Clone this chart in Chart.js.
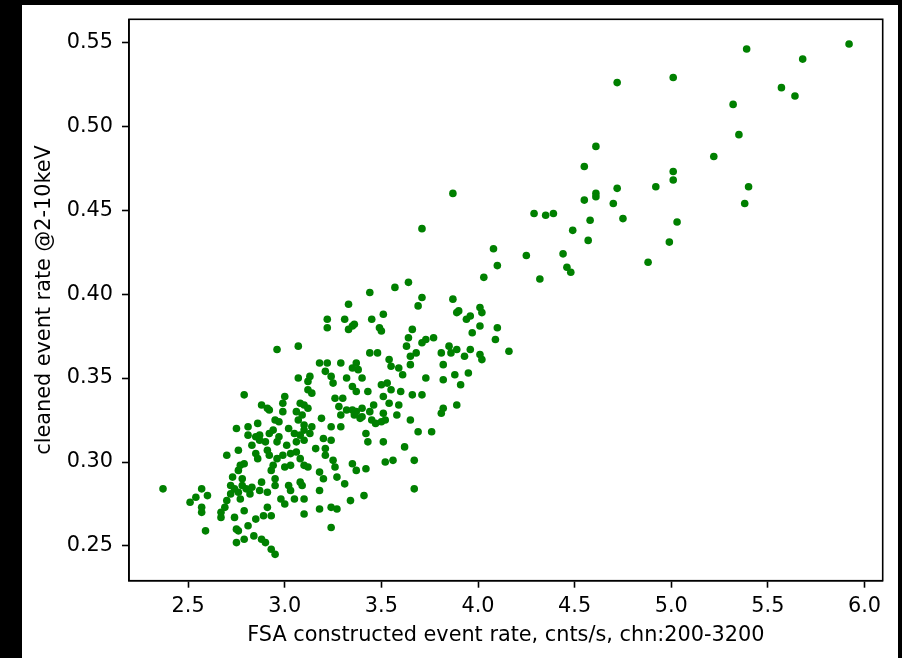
<!DOCTYPE html>
<html lang="en">
<head>
  <meta charset="UTF-8">
  <title>FSA vs cleaned event rate</title>
  <style>
    html, body { margin: 0; padding: 0; background: #000; }
    #wrap { position: absolute; left: 22px; top: 5px; width: 876px; height: 653px; background: #fff; }
  </style>
</head>
<body>
  <div id="wrap"><canvas id="scatter"></canvas></div>

  <script src="https://cdn.jsdelivr.net/npm/chart.js"></script>
  <script>
    // FSA constructed event rate (x) and cleaned event rate (y)
    const fsaRate = [
      5.39, 5.92, 5.68, 5.01, 4.72, 5.57, 5.64, 5.32, 5.35, 4.61, 5.22, 4.55, 5.01, 5.01, 4.92, 4.72, 5.40, 4.61, 4.61, 4.55,
      4.70, 5.38, 4.29, 4.35, 4.39, 4.58, 4.75, 5.03, 4.49, 4.57, 4.99, 4.25, 4.44, 4.46, 4.48, 4.88, 4.32, 3.87, 3.71, 4.08,
      4.10, 4.03, 3.57, 3.64, 3.71, 3.69, 3.87, 3.89, 3.90, 3.94, 3.96, 4.01, 4.02, 4.01, 4.10, 4.09, 3.97, 3.66, 3.64, 3.63,
      3.71, 3.73, 3.77, 3.85, 3.86, 3.89, 3.81, 3.96, 3.93, 4.01, 4.02, 4.16, 3.68, 3.65, 3.65, 3.54, 3.55, 3.59, 3.61, 3.82,
      3.73, 3.82, 3.88, 3.95, 3.91, 3.55, 3.60, 3.66, 3.71, 3.54, 3.59, 3.89, 3.82, 3.81, 3.58, 3.65, 3.69, 3.76, 3.62,
      3.50, 3.52, 3.51, 3.52, 3.56, 3.67, 3.67,
      3.44, 3.33, 3.22, 3.22, 3.31, 3.33, 3.35, 3.36, 3.45, 3.51, 3.49, 3.50,
      2.96, 3.07, 3.44, 3.48, 3.18, 3.22, 3.29, 3.37, 3.35, 3.38, 3.21, 3.24, 3.25, 3.13, 3.12, 3.12, 3.14, 3.07, 3.32, 3.40,
      3.35, 3.37, 3.50, 3.53, 3.43, 3.51, 3.26, 3.30, 3.00, 2.99, 3.08, 3.10, 3.12, 3.28, 3.29, 3.32, 3.35, 3.37, 3.40, 3.40,
      3.36, 3.39, 3.46, 3.44, 3.51, 2.92, 2.99, 3.06, 3.09, 3.07, 3.10, 2.95, 2.97, 3.19, 3.45, 3.47, 3.14, 3.10, 3.13, 3.24,
      3.29, 3.02, 3.05, 3.08, 2.94, 2.92, 3.42, 3.43, 3.20, 3.24,
      3.16, 3.21, 3.21, 3.25, 3.26, 3.35, 3.37, 3.42, 2.92, 2.96, 2.99, 3.03, 3.06, 3.08, 3.10, 3.12, 2.94, 2.93, 3.00, 3.03,
      3.18, 3.20, 3.27, 3.31, 2.95, 3.02, 3.03, 3.08, 3.09, 3.18, 3.41, 3.34, 2.98, 3.00, 3.05, 3.10, 3.18, 3.24, 3.27, 2.93,
      3.10, 3.24, 2.93, 2.95, 2.96, 3.01, 3.06, 3.10,
      2.37, 2.57, 2.60, 2.54, 2.51, 2.57, 2.57, 2.59, 2.70, 2.76, 2.67, 2.67, 2.69, 2.70, 2.72, 2.72, 2.73, 2.76, 2.77, 2.79,
      2.74, 2.76, 2.77, 2.78, 2.78, 2.80, 2.83, 2.82, 2.83, 2.85, 2.86, 2.87, 2.90, 2.91, 2.88, 2.87, 2.91, 2.95, 2.79, 2.74,
      2.91, 2.89, 2.85, 2.81, 2.75, 2.76, 2.84, 2.88, 2.90, 2.75, 2.79,
      2.79, 2.88, 2.91, 2.75, 2.81, 2.86, 2.81, 2.85, 2.87, 2.97
    ];
    const cleanedRate = [
      0.546, 0.549, 0.540, 0.529, 0.526, 0.523, 0.518, 0.513, 0.495, 0.488, 0.482, 0.476, 0.473, 0.468, 0.464, 0.463, 0.464, 0.460, 0.458, 0.456,
      0.454, 0.454, 0.448, 0.447, 0.448, 0.444, 0.445, 0.443, 0.438, 0.432, 0.431, 0.423, 0.424, 0.416, 0.413, 0.419, 0.409, 0.460, 0.439, 0.427,
      0.417, 0.410, 0.404, 0.407, 0.398, 0.393, 0.397, 0.389, 0.390, 0.385, 0.387, 0.392, 0.389, 0.381, 0.380, 0.373, 0.377, 0.379, 0.374, 0.369,
      0.371, 0.373, 0.374, 0.369, 0.365, 0.367, 0.365, 0.367, 0.363, 0.364, 0.361, 0.366, 0.365, 0.363, 0.358, 0.361, 0.357, 0.356, 0.352, 0.358,
      0.350, 0.349, 0.352, 0.353, 0.346, 0.343, 0.342, 0.340, 0.340, 0.335, 0.334, 0.334, 0.332, 0.329, 0.328, 0.325, 0.318, 0.318, 0.309,
      0.324, 0.325, 0.312, 0.300, 0.301, 0.301, 0.284,
      0.401, 0.394, 0.385, 0.380, 0.385, 0.379, 0.381, 0.382, 0.385, 0.388, 0.380, 0.378,
      0.367, 0.369, 0.365, 0.365, 0.359, 0.359, 0.359, 0.359, 0.356, 0.355, 0.354, 0.351, 0.347, 0.351, 0.348, 0.343, 0.341, 0.350, 0.350, 0.350,
      0.345, 0.342, 0.346, 0.347, 0.342, 0.339, 0.338, 0.338, 0.339, 0.335, 0.335, 0.334, 0.332, 0.333, 0.328, 0.331, 0.331, 0.330, 0.332, 0.327,
      0.328, 0.326, 0.334, 0.330, 0.329, 0.331, 0.330, 0.330, 0.328, 0.325, 0.322, 0.325, 0.324, 0.326, 0.325, 0.323, 0.321, 0.319, 0.317, 0.321,
      0.321, 0.320, 0.317, 0.316, 0.319, 0.317, 0.317, 0.312, 0.314, 0.313,
      0.308, 0.308, 0.304, 0.301, 0.297, 0.299, 0.295, 0.296, 0.304, 0.302, 0.304, 0.305, 0.306, 0.302, 0.298, 0.297, 0.298, 0.295, 0.297, 0.298,
      0.294, 0.290, 0.291, 0.287, 0.290, 0.286, 0.283, 0.288, 0.286, 0.283, 0.280, 0.277, 0.278, 0.275, 0.278, 0.278, 0.272, 0.273, 0.272, 0.268,
      0.269, 0.261, 0.248, 0.245, 0.312, 0.310, 0.312, 0.313,
      0.284, 0.284, 0.280, 0.279, 0.276, 0.273, 0.270, 0.259, 0.304, 0.307, 0.267, 0.270, 0.273, 0.277, 0.281, 0.286, 0.291, 0.295, 0.298, 0.299,
      0.284, 0.282, 0.278, 0.290, 0.286, 0.284, 0.285, 0.281, 0.310, 0.305, 0.302, 0.313, 0.312, 0.307, 0.288, 0.283, 0.282, 0.286, 0.271, 0.267,
      0.273, 0.268, 0.266, 0.262, 0.260, 0.259, 0.256, 0.254, 0.252, 0.252, 0.254,
      0.340, 0.334, 0.332, 0.320, 0.321, 0.323, 0.316, 0.315, 0.316, 0.315
    ];

    const xTicks = [2.5, 3.0, 3.5, 4.0, 4.5, 5.0, 5.5, 6.0];
    const xTickLabels = ['2.5', '3.0', '3.5', '4.0', '4.5', '5.0', '5.5', '6.0'];
    const yTicks = [0.25, 0.30, 0.35, 0.40, 0.45, 0.50, 0.55];
    const yTickLabels = ['0.25', '0.30', '0.35', '0.40', '0.45', '0.50', '0.55'];
    const xRange = [2.194, 6.094];
    const yRange = [0.2293, 0.5637];

    const points = fsaRate.map((x, i) => ({ x: x, y: cleanedRate[i] }));
    const labelFont = { family: 'DejaVu Sans', size: 20.8 };

    // matplotlib style box around the plot area
    const frame = {
      id: 'frame',
      afterDraw(chart) {
        const { ctx, chartArea: a } = chart;
        ctx.save();
        ctx.strokeStyle = '#000';
        ctx.lineWidth = 1.6;
        ctx.strokeRect(a.left, a.top, a.right - a.left, a.bottom - a.top);
        ctx.restore();
      }
    };

    // the axes keep no extra room for overhanging labels, layout padding sets the box
    function noOverhang(s) {
      s.paddingTop = 0; s.paddingBottom = 0;
      s.paddingLeft = 0; s.paddingRight = 0;
    }

    const tickGrid = { display: true, drawOnChartArea: false, drawTicks: true, tickLength: 7, tickWidth: 1.6, tickColor: '#000' };

    new Chart(document.getElementById('scatter'), {
      type: 'scatter',
      data: {
        datasets: [{
          data: points,
          pointRadius: 3.8,
          pointHoverRadius: 3.8,
          pointBorderWidth: 0,
          pointBackgroundColor: '#008000'
        }]
      },
      options: {
        responsive: true,
        maintainAspectRatio: false,
        animation: false,
        events: [],
        layout: { padding: { left: 0, top: 14.3, right: 15.3, bottom: 0 } },
        plugins: { legend: { display: false }, tooltip: { enabled: false } },
        scales: {
          x: {
            type: 'linear',
            min: xRange[0],
            max: xRange[1],
            afterBuildTicks: s => { s.ticks = xTicks.map(v => ({ value: v })); },
            afterFit: s => { s.height = 77.3; noOverhang(s); },
            grid: tickGrid,
            border: { display: true, color: '#000', width: 1.6 },
            ticks: {
              autoSkip: false, maxRotation: 0, padding: 6,
              color: '#000', font: labelFont,
              callback: (v, i) => xTickLabels[i]
            },
            title: {
              display: true,
              text: 'FSA constructed event rate, cnts/s, chn:200-3200',
              color: '#000', font: labelFont,
              padding: { top: 9.7, bottom: 9.7 }
            }
          },
          y: {
            type: 'linear',
            min: yRange[0],
            max: yRange[1],
            afterBuildTicks: s => { s.ticks = yTicks.map(v => ({ value: v })); },
            afterFit: s => { s.width = 107; noOverhang(s); },
            grid: tickGrid,
            border: { display: true, color: '#000', width: 1.6 },
            ticks: {
              autoSkip: false, padding: 9,
              color: '#000', font: labelFont,
              callback: (v, i) => yTickLabels[i]
            },
            title: {
              display: true,
              text: 'cleaned event rate @2-10keV',
              color: '#000', font: labelFont,
              padding: { top: 10.6, bottom: 10.6 }
            }
          }
        }
      },
      plugins: [frame]
    });
  </script>
</body>
</html>
